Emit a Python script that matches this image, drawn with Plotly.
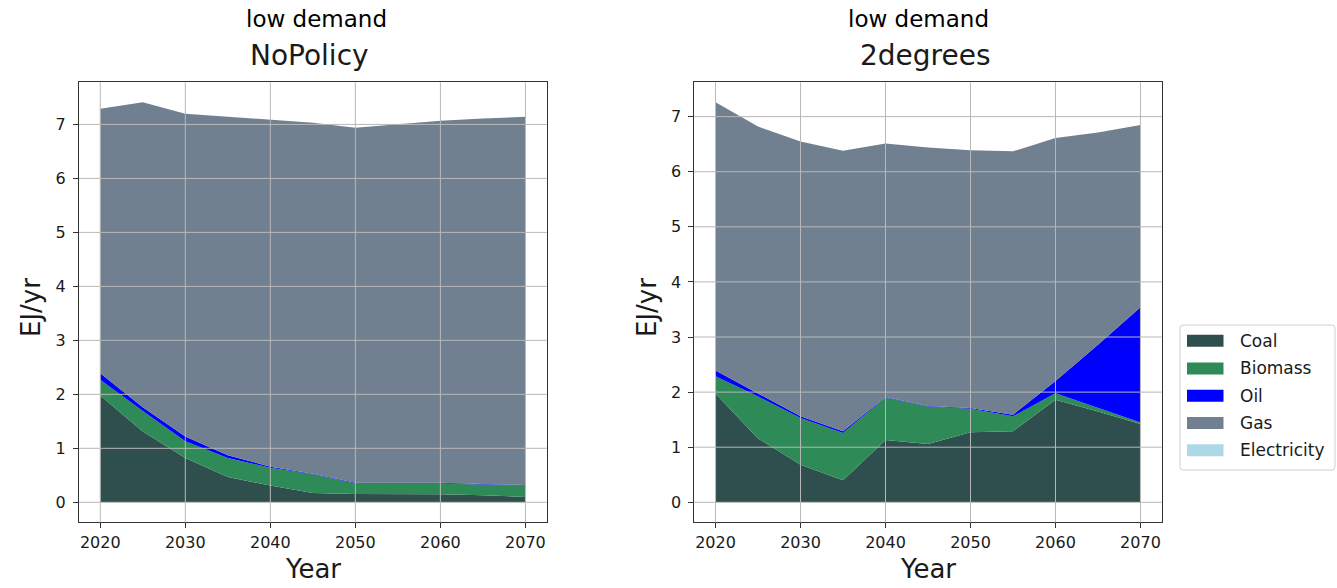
import plotly.graph_objects as go

years = [2020, 2025, 2030, 2035, 2040, 2045, 2050, 2055, 2060, 2065, 2070]
carriers = ["Coal", "Biomass", "Oil", "Gas", "Electricity"]
colors = ["#2F4F4F", "#2E8B57", "#0000FF", "#708090", "#ADD8E6"]

# NoPolicy (EJ/yr)
np_coal = [1.98, 1.31, 0.82, 0.47, 0.31, 0.17, 0.155, 0.15, 0.15, 0.13, 0.10]
np_biomass = [0.29, 0.38, 0.31, 0.35, 0.33, 0.35, 0.195, 0.20, 0.20, 0.20, 0.21]
np_oil = [0.12, 0.07, 0.09, 0.05, 0.02, 0.01, 0.01, 0.01, 0.01, 0.01, 0.01]
np_gas = [4.90, 5.65, 5.98, 6.27, 6.42, 6.50, 6.58, 6.64, 6.71, 6.77, 6.82]
np_elec = [0, 0, 0, 0, 0, 0, 0, 0, 0, 0, 0]

# 2degrees (EJ/yr)
td_coal = [1.97, 1.16, 0.68, 0.40, 1.13, 1.06, 1.27, 1.29, 1.86, 1.65, 1.42]
td_biomass = [0.32, 0.76, 0.85, 0.86, 0.77, 0.68, 0.43, 0.27, 0.12, 0.07, 0.03]
td_oil = [0.10, 0.06, 0.03, 0.03, 0.01, 0.01, 0.01, 0.03, 0.22, 1.14, 2.09]
td_gas = [4.87, 4.84, 4.99, 5.09, 4.60, 4.69, 4.68, 4.78, 4.41, 3.85, 3.31]
td_elec = [0, 0, 0, 0, 0, 0, 0, 0, 0, 0, 0]

panels = [
    ("NoPolicy", "low demand", [np_coal, np_biomass, np_oil, np_gas, np_elec]),
    ("2degrees", "low demand", [td_coal, td_biomass, td_oil, td_gas, td_elec]),
]

xticks = [2020, 2030, 2040, 2050, 2060, 2070]
yticks = [0, 1, 2, 3, 4, 5, 6, 7]

W, H = 1337, 588
xdoms = [[79 / W, 546.7 / W], [694.3 / W, 1161.7 / W]]
ydom = [1 - 522.3 / H, 1 - 82.3 / H]

FONT = "DejaVu Sans"
TXT = "#1a1a1a"
GRID = "#b8b8b8"

fig = go.Figure()
shapes = []
annotations = []

for i, (title, sup, series) in enumerate(panels):
    sfx = "" if i == 0 else str(i + 1)
    for name, col, vals in zip(carriers, colors, series):
        fig.add_trace(go.Scatter(
            x=years, y=vals, name=name, mode="lines",
            stackgroup="s%d" % i,
            line=dict(width=0, color=col), fillcolor=col,
            xaxis="x" + sfx, yaxis="y" + sfx,
            showlegend=False,
        ))
    totals = [sum(v) for v in zip(*series)]
    ymax = max(totals)
    yrange = [-0.05 * ymax, ymax * 1.05]
    axis_common = dict(
        showline=True, linecolor="#333333", linewidth=1, mirror=True,
        ticks="outside", ticklen=5, tickwidth=1, tickcolor="#333333",
        showgrid=False, zeroline=False,
        tickfont=dict(family=FONT, size=16, color=TXT),
    )
    fig.update_layout(**{
        "xaxis" + sfx: dict(axis_common, domain=xdoms[i], range=[2017.5, 2072.5],
                            tickvals=xticks, anchor="y" + sfx),
        "yaxis" + sfx: dict(axis_common, domain=ydom, range=yrange,
                            tickvals=yticks, anchor="x" + sfx, ticklabelstandoff=4),
    })
    for xv in xticks:
        shapes.append(dict(type="line", xref="x" + sfx, yref="y%s domain" % sfx,
                           x0=xv, x1=xv, y0=0, y1=1, layer="above",
                           line=dict(color=GRID, width=1)))
    for yv in yticks:
        shapes.append(dict(type="line", xref="x%s domain" % sfx, yref="y" + sfx,
                           x0=0, x1=1, y0=yv, y1=yv, layer="above",
                           line=dict(color=GRID, width=1)))
    cx = (xdoms[i][0] + xdoms[i][1]) / 2
    sup_x = [316 / W, 918 / W][i]
    ttl_x = [309.7 / W, 925 / W][i]
    annotations.append(dict(text=sup, xref="paper", yref="paper", x=sup_x, y=1 - 19 / H,
                            xanchor="center", yanchor="middle", showarrow=False,
                            font=dict(family=FONT, size=23, color="#000000")))
    annotations.append(dict(text=title, xref="paper", yref="paper", x=ttl_x, y=1 - 55 / H,
                            xanchor="center", yanchor="middle", showarrow=False,
                            font=dict(family=FONT, size=28, color=TXT)))
    annotations.append(dict(text="Year", xref="paper", yref="paper", x=cx, y=1 - 569 / H,
                            xanchor="center", yanchor="middle", showarrow=False,
                            font=dict(family=FONT, size=26, color=TXT)))
    ylab_x = [31 / W, 647 / W][i]
    annotations.append(dict(text="EJ/yr", xref="paper", yref="paper", x=ylab_x,
                            y=1 - 308 / H, textangle=-90,
                            xanchor="center", yanchor="middle", showarrow=False,
                            font=dict(family=FONT, size=26, color=TXT)))

# Legend box (drawn by hand so swatches match the reference's wide patches)
lx0, lx1, ly0, ly1 = 1180, 1335, 325, 470
r = 3
shapes.append(dict(
    type="path", xref="paper", yref="paper", layer="above",
    path=("M {a},{t} L {b},{t} Q {x1},{t} {x1},{tt} L {x1},{bb} Q {x1},{bo} {b},{bo} "
          "L {a},{bo} Q {x0},{bo} {x0},{bb} L {x0},{tt} Q {x0},{t} {a},{t} Z").format(
        a=(lx0 + r) / W, b=(lx1 - r) / W, x0=lx0 / W, x1=lx1 / W,
        t=1 - ly0 / H, tt=1 - (ly0 + r) / H, bb=1 - (ly1 - r) / H, bo=1 - ly1 / H),
    line=dict(color="#d0d0d0", width=1), fillcolor="rgba(255,255,255,0.8)"))
entry_y = [340.7, 368.5, 395.7, 423.0, 450.2]
for name, col, ey in zip(carriers, colors, entry_y):
    shapes.append(dict(type="rect", xref="paper", yref="paper", layer="above",
                       x0=1187 / W, x1=1223.5 / W, y0=1 - (ey - 6) / H, y1=1 - (ey + 6) / H,
                       line=dict(width=0), fillcolor=col))
    annotations.append(dict(text=name, xref="paper", yref="paper", x=1238 / W, y=1 - ey / H,
                            xanchor="left", yanchor="middle", showarrow=False,
                            font=dict(family=FONT, size=17, color=TXT)))

fig.update_layout(
    width=W, height=H, autosize=False,
    margin=dict(l=0, r=0, t=0, b=0),
    paper_bgcolor="white", plot_bgcolor="white",
    shapes=shapes, annotations=annotations,
    showlegend=False,
)

fig.write_html("out.html")
